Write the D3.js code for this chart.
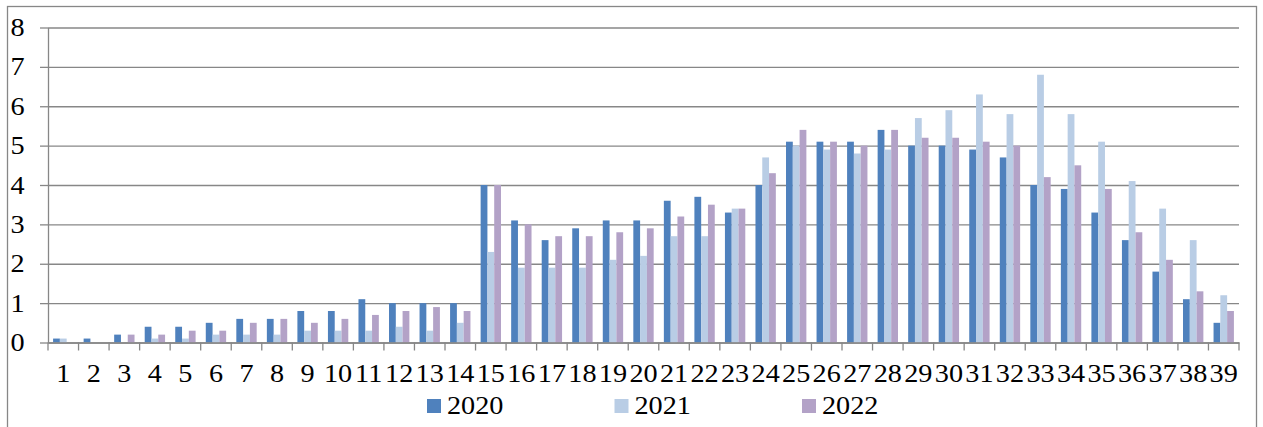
<!DOCTYPE html>
<html><head><meta charset="utf-8">
<script src="https://cdn.jsdelivr.net/npm/d3@7"></script>
<style>
body{margin:0;background:#fff;}
svg{display:block;}
text{font-family:"Liberation Serif","Times New Roman",serif;fill:#000;}
</style>
</head><body><svg id="c" width="1263" height="427"></svg>
<script>
const categories = ["1","2","3","4","5","6","7","8","9","10","11","12","13","14","15","16","17","18","19","20",
  "21","22","23","24","25","26","27","28","29","30","31","32","33","34","35","36","37","38","39"];
const seriesNames = ["2020","2021","2022"];
const values2020 = [0.1,0.1,0.2,0.4,0.4,0.5,0.6,0.6,0.8,0.8,1.1,1.0,1.0,1.0,4.0,3.1,2.6,2.9,3.1,3.1,
  3.6,3.7,3.3,4.0,5.1,5.1,5.1,5.4,5.0,5.0,4.9,4.7,4.0,3.9,3.3,2.6,1.8,1.1,0.5];
const values2021 = [0.1,0,0,0.1,0.1,0.2,0.2,0.2,0.3,0.3,0.3,0.4,0.3,0.5,2.3,1.9,1.9,1.9,2.1,2.2,
  2.7,2.7,3.4,4.7,5.0,4.9,4.8,4.9,5.7,5.9,6.3,5.8,6.8,5.8,5.1,4.1,3.4,2.6,1.2];
const values2022 = [0,0,0.2,0.2,0.3,0.3,0.5,0.6,0.5,0.6,0.7,0.8,0.9,0.8,4.0,3.0,2.7,2.7,2.8,2.9,
  3.2,3.5,3.4,4.3,5.4,5.1,5.0,5.4,5.2,5.2,5.1,5.0,4.2,4.5,3.9,2.8,2.1,1.3,0.8];
const yTicks = [0,1,2,3,4,5,6,7,8];
const colors = ["#4F81BD","#B9CDE5","#B3A2C7"];

const seriesValues = [values2020, values2021, values2022];
const rows = categories.map((c,i)=>({cat:c, vals: seriesNames.map((s,k)=>({s, v: seriesValues[k][i]}))}));

const svg = d3.select("#c");
const L = 48, R = 1239, B = 342.5, T = 27.5;
const SX = 1.13, FS = 25;
const gridColor = "#878787";

const x = d3.scaleBand().domain(categories).range([L,R]).padding(0);
const xs = d3.scaleBand().domain(seriesNames).range([0,x.bandwidth()]).paddingInner(0).paddingOuter(0.75);
const y = d3.scaleLinear().domain([0,8]).range([B,T]);
const color = d3.scaleOrdinal().domain(seriesNames).range(colors);

// outer frame
svg.append("rect").attr("x",7.5).attr("y",6.5).attr("width",1249).attr("height",440)
  .attr("fill","#fff").attr("stroke",gridColor).attr("stroke-width",1.3);

// gridlines
const grid = svg.append("g").attr("transform",`translate(${L},0)`)
  .call(d3.axisLeft(y).tickValues(yTicks).tickSize(-(R-L)).tickFormat("").tickSizeOuter(0));
grid.select(".domain").remove();
grid.selectAll("line").attr("stroke",gridColor).attr("stroke-width",1.3);

// bars
const g = svg.append("g");
g.selectAll("g.cat").data(rows).join("g").attr("class","cat")
  .attr("transform",d=>`translate(${x(d.cat)},0)`)
  .selectAll("rect").data(d=>d.vals).join("rect")
  .attr("x",d=>xs(d.s)).attr("width",xs.bandwidth())
  .attr("y",d=>y(d.v)).attr("height",d=>B-y(d.v))
  .attr("fill",d=>color(d.s));

// y axis
const ya = svg.append("g").attr("transform",`translate(${L},0)`)
  .call(d3.axisLeft(y).tickValues(yTicks).tickSize(8).tickPadding(12.8).tickSizeOuter(0).tickFormat(d3.format("d")));
ya.select(".domain").attr("stroke",gridColor).attr("stroke-width",1.3);
ya.selectAll("line").attr("stroke",gridColor).attr("stroke-width",1.3);
ya.selectAll("text").attr("font-size",FS).attr("font-family","Liberation Serif")
  .attr("transform",`scale(${SX},1)`);

// x axis
const xa = svg.append("g").attr("transform",`translate(0,${B})`)
  .call(d3.axisBottom(x).tickSize(0).tickPadding(21.3).tickSizeOuter(0));
xa.select(".domain").attr("stroke",gridColor).attr("stroke-width",1.3);
xa.selectAll("text").attr("font-size",FS).attr("font-family","Liberation Serif")
  .attr("transform",`scale(${SX},1)`);
// boundary tick marks
const bounds = categories.map(c=>x(c)).concat([R]);
xa.selectAll("line.bt").data(bounds).join("line").attr("class","bt")
  .attr("x1",d=>d).attr("x2",d=>d).attr("y1",0).attr("y2",8)
  .attr("stroke",gridColor).attr("stroke-width",1.3);

// legend
const lg = svg.append("g");
const items = lg.selectAll("g").data(seriesNames).join("g")
  .attr("transform",(d,i)=>`translate(${427+i*187.5},0)`);
items.append("rect").attr("x",0).attr("y",399).attr("width",14).attr("height",14).attr("fill",d=>color(d));
items.append("text").attr("transform",`translate(20,414) scale(${SX},1)`)
  .attr("font-size",FS).text(d=>d);
</script>
</body></html>
